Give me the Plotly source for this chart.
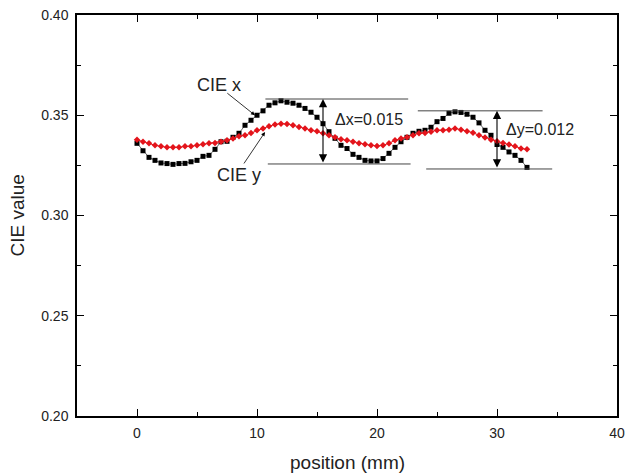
import plotly.graph_objects as go

position = [i * 0.5 for i in range(66)]

cie_x = [0.3360, 0.3323, 0.3290, 0.3275, 0.3262, 0.3259, 0.3255, 0.3259, 0.3260, 0.3268,
         0.3275, 0.3295, 0.3300, 0.3330, 0.3368, 0.3370, 0.3390, 0.3410, 0.3450, 0.3475,
         0.3500, 0.3522, 0.3550, 0.3562, 0.3572, 0.3565, 0.3560, 0.3550, 0.3534, 0.3515,
         0.3490, 0.3458, 0.3418, 0.3385, 0.3350, 0.3334, 0.3305, 0.3290, 0.3275, 0.3272,
         0.3272, 0.3284, 0.3310, 0.3340, 0.3368, 0.3390, 0.3410, 0.3420, 0.3425, 0.3440,
         0.3468, 0.3484, 0.3510, 0.3517, 0.3514, 0.3505, 0.3490, 0.3462, 0.3425, 0.3400,
         0.3354, 0.3340, 0.3317, 0.3300, 0.3275, 0.3240]

cie_y = [0.3378, 0.3368, 0.3360, 0.3350, 0.3345, 0.3340, 0.3340, 0.3340, 0.3345, 0.3345,
         0.3350, 0.3355, 0.3360, 0.3362, 0.3368, 0.3375, 0.3384, 0.3395, 0.3400, 0.3412,
         0.3425, 0.3434, 0.3445, 0.3454, 0.3458, 0.3456, 0.3450, 0.3442, 0.3434, 0.3425,
         0.3420, 0.3410, 0.3400, 0.3390, 0.3380, 0.3375, 0.3368, 0.3360, 0.3355, 0.3350,
         0.3347, 0.3350, 0.3360, 0.3375, 0.3384, 0.3390, 0.3400, 0.3410, 0.3412, 0.3418,
         0.3425, 0.3425, 0.3428, 0.3434, 0.3428, 0.3420, 0.3413, 0.3400, 0.3389, 0.3378,
         0.3370, 0.3362, 0.3354, 0.3345, 0.3334, 0.3330]

x_ticks = [0, 10, 20, 30, 40]
y_ticks = [0.20, 0.25, 0.30, 0.35, 0.40]
y_tick_labels = ["0.20", "0.25", "0.30", "0.35", "0.40"]

FONT = "Liberation Sans, Arial, sans-serif"
TXT = "#222222"

fig = go.Figure()
fig.add_trace(go.Scatter(
    x=position, y=cie_x, mode="lines+markers", name="CIE x",
    line=dict(color="black", width=0.6),
    marker=dict(symbol="square", size=5, color="black"),
))
fig.add_trace(go.Scatter(
    x=position, y=cie_y, mode="lines+markers", name="CIE y",
    line=dict(color="#e3141b", width=1),
    marker=dict(symbol="diamond", size=5, color="#e3141b"),
))

line_col = "#444444"
shapes = [
    dict(type="line", x0=10.7, x1=22.6, y0=0.3581, y1=0.3581, line=dict(color=line_col, width=1)),
    dict(type="line", x0=10.9, x1=22.8, y0=0.3257, y1=0.3257, line=dict(color=line_col, width=1)),
    dict(type="line", x0=23.4, x1=33.8, y0=0.3522, y1=0.3522, line=dict(color=line_col, width=1)),
    dict(type="line", x0=24.1, x1=34.6, y0=0.3232, y1=0.3232, line=dict(color=line_col, width=1)),
]

annotations = [
    dict(x=15.5, y=0.3581, ax=15.5, ay=0.3257, xref="x", yref="y", axref="x", ayref="y",
         text="", showarrow=True, arrowhead=2, arrowsize=1.5, arrowwidth=1.1,
         arrowside="end+start", startarrowhead=2, startarrowsize=1.5, arrowcolor="black"),
    dict(x=30.0, y=0.3522, ax=30.0, ay=0.3232, xref="x", yref="y", axref="x", ayref="y",
         text="", showarrow=True, arrowhead=2, arrowsize=1.5, arrowwidth=1.1,
         arrowside="end+start", startarrowhead=2, startarrowsize=1.5, arrowcolor="black"),
    dict(x=16.3, y=0.3481, xref="x", yref="y", text="Δx=0.015", showarrow=False,
         xanchor="left", yanchor="middle", font=dict(family=FONT, size=16, color=TXT)),
    dict(x=30.6, y=0.3431, xref="x", yref="y", text="Δy=0.012", showarrow=False,
         xanchor="left", yanchor="middle", font=dict(family=FONT, size=16, color=TXT)),
    dict(x=9.83, y=0.3500, ax=7.4, ay=0.3616, xref="x", yref="y", axref="x", ayref="y",
         text="", showarrow=True, arrowhead=2, arrowsize=1, arrowwidth=0.8, arrowcolor="black"),
    dict(x=6.8, y=0.3650, xref="x", yref="y", text="CIE x", showarrow=False,
         xanchor="center", yanchor="middle", font=dict(family=FONT, size=18, color=TXT)),
    dict(x=10.67, y=0.3416, ax=8.83, ay=0.3252, xref="x", yref="y", axref="x", ayref="y",
         text="", showarrow=True, arrowhead=2, arrowsize=1, arrowwidth=0.8, arrowcolor="black"),
    dict(x=8.46, y=0.3202, xref="x", yref="y", text="CIE y", showarrow=False,
         xanchor="center", yanchor="middle", font=dict(family=FONT, size=18, color=TXT)),
    dict(x=0.5, y=(416 - 462) / 401, xref="paper", yref="paper", text="position (mm)",
         showarrow=False, xanchor="center", yanchor="middle",
         font=dict(family=FONT, size=19, color=TXT)),
    dict(x=(17 - 77) / 540, y=0.5, xref="paper", yref="paper", text="CIE value",
         showarrow=False, xanchor="center", yanchor="middle", textangle=-90,
         font=dict(family=FONT, size=19, color=TXT)),
]

axis_common = dict(
    showline=True, linecolor="black", linewidth=1.5, mirror="ticks",
    ticks="inside", ticklen=7, tickwidth=1.2, tickcolor="black",
    showgrid=False, zeroline=False, automargin=False,
    tickfont=dict(family=FONT, size=14, color=TXT),
)

fig.update_layout(
    width=628, height=473,
    margin=dict(l=77, r=11, t=15, b=57, pad=0),
    paper_bgcolor="white", plot_bgcolor="white",
    showlegend=False,
    shapes=shapes, annotations=annotations,
    xaxis=dict(range=[-5, 40], tickvals=x_ticks, ticklabelstandoff=3,
               minor=dict(ticks="inside", ticklen=4, dtick=5, tick0=0, tickcolor="black", showgrid=False),
               **axis_common),
    yaxis=dict(range=[0.20, 0.40], tickvals=y_ticks, ticktext=y_tick_labels, ticklabelstandoff=4,
               minor=dict(ticks="inside", ticklen=4, dtick=0.025, tick0=0.2, tickcolor="black", showgrid=False),
               **axis_common),
)

fig.write_html("out.html", config={"displayModeBar": False},
               post_script="document.body.style.margin='0';document.body.style.padding='0';")
